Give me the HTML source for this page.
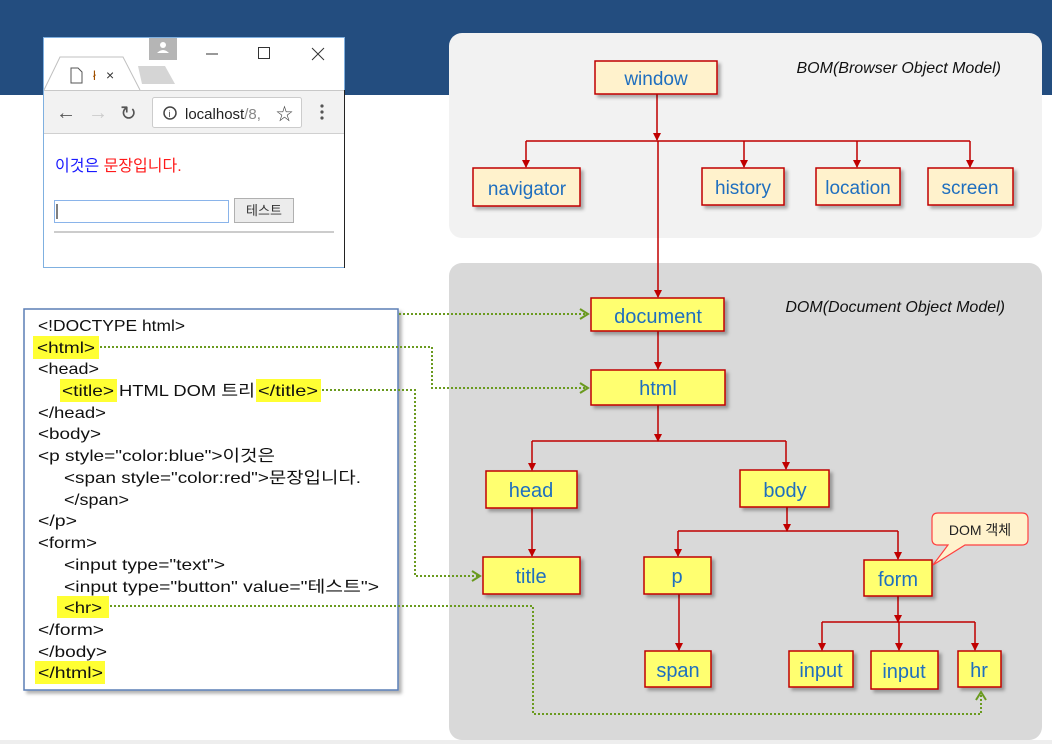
<!DOCTYPE html>
<html><head><meta charset="utf-8">
<style>
body{margin:0;width:1052px;height:744px;overflow:hidden;background:#fff;font-family:"Liberation Sans","Noto Sans CJK KR",sans-serif;}
svg{position:absolute;left:0;top:0}
</style></head><body>
<svg width="1052" height="744" viewBox="0 0 1052 744" xmlns="http://www.w3.org/2000/svg" font-family="Liberation Sans, Noto Sans CJK KR, sans-serif">
<defs>
<marker id="ar" markerWidth="8" markerHeight="8" refX="7" refY="4" orient="auto" markerUnits="userSpaceOnUse"><path d="M0,0 L8,4 L0,8 z" fill="#c00000"/></marker>
<marker id="ga" markerWidth="12" markerHeight="12" refX="10" refY="6" orient="auto" markerUnits="userSpaceOnUse"><path d="M2,1 L10,6 L2,11" fill="none" stroke="#6a9a1f" stroke-width="2"/></marker>
<filter id="sh" x="-10%" y="-10%" width="130%" height="140%"><feDropShadow dx="3" dy="3" stdDeviation="1.5" flood-color="#000" flood-opacity="0.3"/></filter>
</defs>
<rect x="0" y="0" width="1052" height="95" fill="#234d7f"/>
<rect x="0" y="740" width="1052" height="4" fill="#eeeeee"/>
<rect x="449" y="33" width="593" height="205" rx="13" fill="#f2f2f2"/>
<rect x="449" y="263" width="593" height="477" rx="13" fill="#d9d9d9"/>
<text x="1001" y="73" font-size="16" font-style="italic" text-anchor="end" fill="#111">BOM(Browser Object Model)</text>
<text x="1005" y="312" font-size="16" font-style="italic" text-anchor="end" fill="#111">DOM(Document Object Model)</text>

<!-- browser window -->
<rect x="43.5" y="37.5" width="301" height="230" fill="#fff" stroke="#7fb0e0"/>
<rect x="149" y="38" width="28" height="22" fill="#b5b5b5"/>
<circle cx="163" cy="45" r="3" fill="#fff"/><path d="M157,53 q6,-6 12,0 z" fill="#fff"/>
<line x1="206" y1="54" x2="218" y2="54" stroke="#333"/>
<rect x="258.5" y="47.5" width="11" height="11" fill="none" stroke="#333"/>
<path d="M312,48 L324,60 M324,48 L312,60" stroke="#333"/>
<path d="M44,90 L60,57 L123,57 L140,90" fill="#fff" stroke="#c0c0c0"/>
<path d="M138,66 L165,66 L175,84 L142,84 z" fill="#d5d5d5"/>
<path d="M71,68 h7 l4,4 v11 h-11 z" fill="none" stroke="#555"/>
<text x="93" y="80" font-size="13" fill="#a05000">ł</text>
<text x="106" y="80" font-size="14" fill="#333">×</text>
<rect x="44" y="90" width="300" height="43" fill="#f2f2f2"/>
<line x1="44" y1="90.5" x2="344" y2="90.5" stroke="#c8c8c8"/>
<line x1="44" y1="133.5" x2="344" y2="133.5" stroke="#d0d0d0"/>
<line x1="344.5" y1="90" x2="344.5" y2="268" stroke="#222"/>
<text x="56" y="119" font-size="20" fill="#555">←</text>
<text x="88" y="119" font-size="20" fill="#ccc">→</text>
<text x="120" y="120" font-size="20" fill="#555">↻</text>
<rect x="152.5" y="97.5" width="149" height="30" rx="2" fill="#fff" stroke="#ccc"/>
<circle cx="170" cy="113" r="6" fill="none" stroke="#444" stroke-width="1.5"/><text x="168.5" y="117" font-size="9" fill="#444">i</text>
<text x="185" y="119" font-size="15" fill="#222">localhost<tspan fill="#888">/8,</tspan></text>
<text x="276" y="120" font-size="17" fill="#444">☆</text>
<circle cx="322" cy="106" r="1.6" fill="#555"/><circle cx="322" cy="112" r="1.6" fill="#555"/><circle cx="322" cy="118" r="1.6" fill="#555"/>
<text x="55" y="171" font-size="16"><tspan fill="#1a1aff">이것은 </tspan><tspan fill="#ff1a1a">문장입니다.</tspan></text>
<rect x="54.5" y="200.5" width="174" height="22" fill="#fff" stroke="#8ab4ea"/>
<line x1="57" y1="204" x2="57" y2="219" stroke="#000"/>
<rect x="234.5" y="198.5" width="59" height="24" fill="#ececec" stroke="#b0b0b0"/>
<text x="264" y="215" font-size="13" fill="#333" text-anchor="middle">테스트</text>
<line x1="54" y1="232" x2="334" y2="232" stroke="#bbb" stroke-width="1.5"/>

<!-- code box -->
<rect x="24" y="309" width="374" height="381" fill="#fff" stroke="#5b7fb5" stroke-width="1.5" filter="url(#sh)"/>
<g fill="#ffff33">
<rect x="33" y="336" width="66" height="23"/>
<rect x="60" y="379" width="57" height="23"/>
<rect x="256" y="379" width="65" height="23"/>
<rect x="57" y="596" width="52" height="22"/>
<rect x="35" y="661" width="70" height="23"/>
</g>
<g font-size="16" fill="#111" lengthAdjust="spacingAndGlyphs">
<text x="38" y="331" textLength="147" lengthAdjust="spacingAndGlyphs">&lt;!DOCTYPE html&gt;</text>
<text x="37" y="353" textLength="58" lengthAdjust="spacingAndGlyphs">&lt;html&gt;</text>
<text x="38" y="374" textLength="61" lengthAdjust="spacingAndGlyphs">&lt;head&gt;</text>
<text x="62" y="396" textLength="52" lengthAdjust="spacingAndGlyphs">&lt;title&gt;</text>
<text x="119" y="396" textLength="136" lengthAdjust="spacingAndGlyphs">HTML DOM 트리</text>
<text x="258" y="396" textLength="60" lengthAdjust="spacingAndGlyphs">&lt;/title&gt;</text>
<text x="38" y="418" textLength="68" lengthAdjust="spacingAndGlyphs">&lt;/head&gt;</text>
<text x="38" y="439" textLength="63" lengthAdjust="spacingAndGlyphs">&lt;body&gt;</text>
<text x="38" y="461" textLength="237" lengthAdjust="spacingAndGlyphs">&lt;p style="color:blue"&gt;이것은</text>
<text x="64" y="483" textLength="297" lengthAdjust="spacingAndGlyphs">&lt;span style="color:red"&gt;문장입니다.</text>
<text x="64" y="505" textLength="65" lengthAdjust="spacingAndGlyphs">&lt;/span&gt;</text>
<text x="38" y="526" textLength="39" lengthAdjust="spacingAndGlyphs">&lt;/p&gt;</text>
<text x="38" y="548" textLength="59" lengthAdjust="spacingAndGlyphs">&lt;form&gt;</text>
<text x="64" y="570" textLength="161" lengthAdjust="spacingAndGlyphs">&lt;input type="text"&gt;</text>
<text x="64" y="592" textLength="315" lengthAdjust="spacingAndGlyphs">&lt;input type="button" value="테스트"&gt;</text>
<text x="64" y="613" textLength="38" lengthAdjust="spacingAndGlyphs">&lt;hr&gt;</text>
<text x="38" y="635" textLength="66" lengthAdjust="spacingAndGlyphs">&lt;/form&gt;</text>
<text x="38" y="657" textLength="69" lengthAdjust="spacingAndGlyphs">&lt;/body&gt;</text>
<text x="38" y="678" textLength="65" lengthAdjust="spacingAndGlyphs">&lt;/html&gt;</text>
</g>

<!-- red connectors -->
<g stroke="#c00000" stroke-width="1.5" fill="none">
<line x1="657" y1="94" x2="657" y2="140" marker-end="url(#ar)"/>
<path d="M526,141 H970"/>
<line x1="526" y1="141" x2="526" y2="167" marker-end="url(#ar)"/>
<line x1="744" y1="141" x2="744" y2="167" marker-end="url(#ar)"/>
<line x1="857" y1="141" x2="857" y2="167" marker-end="url(#ar)"/>
<line x1="970" y1="141" x2="970" y2="167" marker-end="url(#ar)"/>
<line x1="658" y1="141" x2="658" y2="297" marker-end="url(#ar)"/>
<line x1="658" y1="331" x2="658" y2="369" marker-end="url(#ar)"/>
<line x1="658" y1="405" x2="658" y2="441" marker-end="url(#ar)"/>
<path d="M532,441 H786"/>
<line x1="532" y1="441" x2="532" y2="470" marker-end="url(#ar)"/>
<line x1="786" y1="441" x2="786" y2="469" marker-end="url(#ar)"/>
<line x1="532" y1="508" x2="532" y2="556" marker-end="url(#ar)"/>
<line x1="787" y1="507" x2="787" y2="531" marker-end="url(#ar)"/>
<path d="M678,531 H898"/>
<line x1="678" y1="531" x2="678" y2="556" marker-end="url(#ar)"/>
<line x1="898" y1="531" x2="898" y2="559" marker-end="url(#ar)"/>
<line x1="679" y1="594" x2="679" y2="650" marker-end="url(#ar)"/>
<line x1="898" y1="596" x2="898" y2="622" marker-end="url(#ar)"/>
<path d="M822,622 H975"/>
<line x1="822" y1="622" x2="822" y2="650" marker-end="url(#ar)"/>
<line x1="899" y1="622" x2="899" y2="650" marker-end="url(#ar)"/>
<line x1="975" y1="622" x2="975" y2="650" marker-end="url(#ar)"/>
</g>

<g stroke="#c00000" stroke-width="1.5" fill="#fff2cc" filter="url(#sh)">
<rect x="595" y="61" width="122" height="33"/>
<rect x="473" y="168" width="107" height="38"/>
<rect x="702" y="168" width="82" height="37"/>
<rect x="816" y="168" width="84" height="37"/>
<rect x="928" y="168" width="85" height="37"/>
</g>
<g font-size="19" fill="#1f6fbf" text-anchor="middle">
<text x="656" y="85">window</text>
<text x="527" y="195">navigator</text>
<text x="743" y="194">history</text>
<text x="858" y="194">location</text>
<text x="970" y="194">screen</text>
</g>

<g stroke="#c00000" stroke-width="1.5" fill="#ffff70" filter="url(#sh)">
<rect x="591" y="298" width="133" height="33"/>
<rect x="591" y="370" width="134" height="35"/>
<rect x="486" y="471" width="91" height="37"/>
<rect x="740" y="470" width="89" height="37"/>
<rect x="483" y="557" width="97" height="37"/>
<rect x="644" y="557" width="67" height="37"/>
<rect x="864" y="560" width="68" height="36"/>
<rect x="645" y="651" width="66" height="36"/>
<rect x="789" y="651" width="64" height="36"/>
<rect x="871" y="651" width="67" height="38"/>
<rect x="958" y="651" width="43" height="36"/>
</g>
<g font-size="20" fill="#1f6fbf" text-anchor="middle">
<text x="658" y="323">document</text>
<text x="658" y="395">html</text>
<text x="531" y="497">head</text>
<text x="785" y="497">body</text>
<text x="531" y="583">title</text>
<text x="677" y="583">p</text>
<text x="898" y="586">form</text>
<text x="678" y="677">span</text>
<text x="821" y="677">input</text>
<text x="904" y="678">input</text>
<text x="979" y="677">hr</text>
</g>

<path d="M938,513 H1022 Q1028,513 1028,519 V539 Q1028,545 1022,545 H965 L933,565 L948,545 H938 Q932,545 932,539 V519 Q932,513 938,513 z" fill="#fff2cc" stroke="#ff4040" stroke-width="1.2"/>
<text x="980" y="535" font-size="14" fill="#222" text-anchor="middle">DOM 객체</text>

<g stroke="#6a9a1f" stroke-width="2" stroke-dasharray="2,2" fill="none">
<path d="M399,314 H588" marker-end="url(#ga)"/>
<path d="M100,347 H432 V388 H588" marker-end="url(#ga)"/>
<path d="M322,390 H415 V576 H480" marker-end="url(#ga)"/>
<path d="M110,606 H533 V714 H981 V692" marker-end="url(#ga)"/>
</g>
</svg>
</body></html>
